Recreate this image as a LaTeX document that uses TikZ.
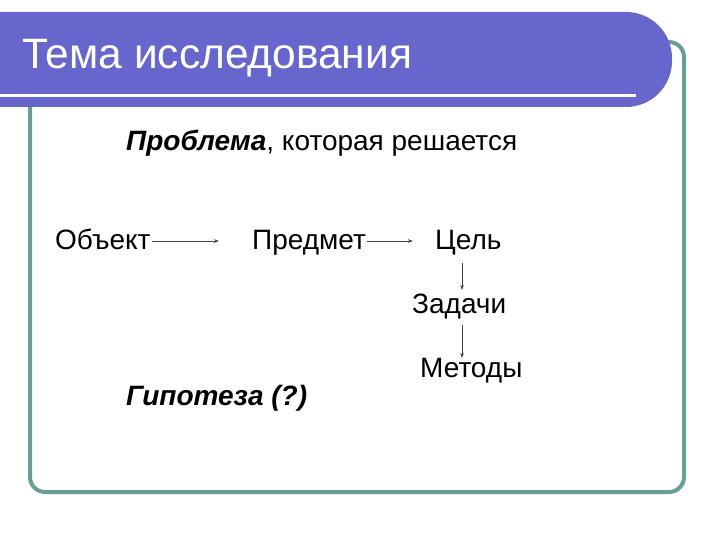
\documentclass[tikz,border=0pt]{standalone}
\usepackage{fontspec}
\setmainfont{Liberation Sans}
\usetikzlibrary{arrows.meta}
\definecolor{barblue}{HTML}{6666CC}
\definecolor{frameteal}{HTML}{6A9C98}
\tikzset{
  word/.style={anchor=base west, inner sep=0pt, font=\fontsize{28}{33}\selectfont},
  link/.style={draw=black!75, line width=0.7pt, -{Stealth[length=5pt,width=3.5pt]}}
}
\begin{document}
\begin{tikzpicture}[x=1pt, y=-1pt]
      \useasboundingbox (0,0) rectangle (720,540);
      
      \draw[frameteal, line width=4pt, rounded corners=15pt] (30,42) rectangle (684,492);
      \fill[barblue, rounded corners=46pt] (-60,12) rectangle (672,107);
      \draw[white, line width=3pt] (0,96) -- (636,96);
      
      \node[anchor=base west, inner sep=0pt, text=white, font=\fontsize{42.5}{48}\selectfont] (title) at (22,69) {Тема исследования};
      
      \node[word] (problem) at (126,151) {\textbf{\textit{Проблема}}, которая решается};
      \node[word] (object) at (55,249) {Объект};
      \node[word] (subject) at (252,249) {Предмет};
      \node[word] (goal) at (435,249) {Цель};
      \node[word] (tasks) at (412,313) {Задачи};
      \node[word] (methods) at (420,377) {Методы};
      \node[word] (hyp) at (126,405) {\textbf{\textit{Гипотеза (?)}}};
      
      \draw[link, shorten <=1pt, shorten >=33pt] (object.east |- 0,241) -- (subject.west |- 0,241);
      \draw[link, shorten <=1pt, shorten >=22pt] (subject.east |- 0,241) -- (goal.west |- 0,241);
      \draw[link] (462,263) -- (462,290);
      \draw[link] (462,325) -- (462,358);
    \end{tikzpicture}
\end{document}
